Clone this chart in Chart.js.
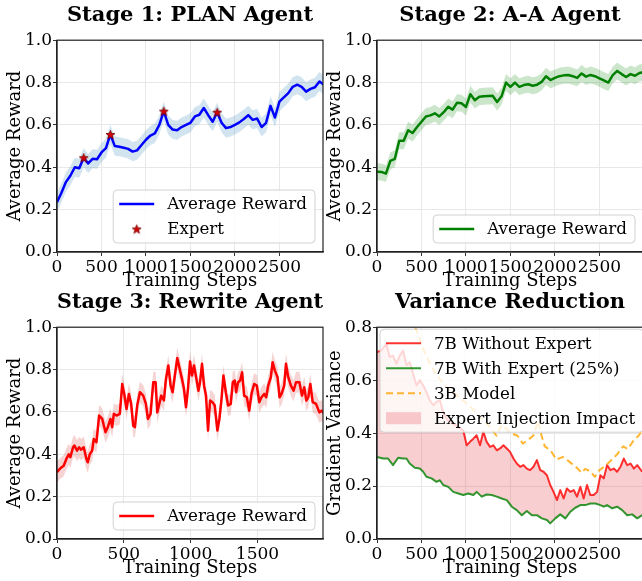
<!DOCTYPE html>
<html>
<head>
<meta charset="utf-8">
<script src="https://cdn.jsdelivr.net/npm/chart.js@4.4.1/dist/chart.umd.min.js"></script>
<style>
html, body { margin: 0; padding: 0; background: #fff; overflow: hidden; width: 642px; height: 581px; }
.panel { position: absolute; width: 330px; height: 292px; }
</style>
</head>
<body>
<div class="panel" style="left:0;top:0"><canvas id="plan" width="330" height="292"></canvas></div>
<div class="panel" style="left:320px;top:0"><canvas id="aa" width="330" height="292"></canvas></div>
<div class="panel" style="left:0;top:287px"><canvas id="rewrite" width="330" height="292"></canvas></div>
<div class="panel" style="left:320px;top:287px"><canvas id="variance" width="330" height="292"></canvas></div>
<script>
const FONT = "'DejaVu Serif', 'Liberation Serif', serif";

function range(a, b, s) { const r = []; for (let v = a; v <= b; v += s) r.push(v); return r; }

// --- Stage 1: PLAN agent
const planSteps = range(0, 3000, 50);
const planReward = [0.235,0.28,0.33,0.36,0.40,0.395,0.445,0.418,0.44,0.438,
  0.47,0.49,0.555,0.50,0.497,0.492,0.487,0.474,0.48,0.505,
  0.53,0.55,0.56,0.60,0.665,0.60,0.578,0.575,0.59,0.60,
  0.61,0.64,0.648,0.68,0.646,0.615,0.66,0.61,0.585,0.59,
  0.60,0.612,0.628,0.646,0.624,0.63,0.59,0.61,0.69,0.635,
  0.71,0.73,0.75,0.78,0.79,0.78,0.757,0.77,0.778,0.805,0.79];
const planSpread = 0.045;
const expertSteps = [300, 600, 1200, 1800];
const expertReward = [0.445, 0.555, 0.665, 0.66];

// --- Stage 2: A-A agent
const aaSteps = range(0, 3000, 50);
const aaReward = [0.379,0.378,0.37,0.43,0.44,0.525,0.525,0.575,0.562,0.59,
  0.615,0.64,0.645,0.655,0.64,0.66,0.685,0.672,0.705,0.702,
  0.685,0.745,0.717,0.733,0.735,0.737,0.738,0.708,0.735,0.80,
  0.78,0.80,0.78,0.788,0.792,0.785,0.79,0.803,0.83,0.812,
  0.822,0.83,0.834,0.836,0.83,0.822,0.843,0.828,0.836,0.83,
  0.82,0.81,0.80,0.835,0.855,0.84,0.826,0.84,0.832,0.845,0.85];
const aaSpread = 0.04;

// --- Stage 3: Rewrite agent
const rwSteps = [0,25,50,70,88,100,120,130,150,165,180,200,220,230,245,263,275,295,315,338,
  363,380,400,413,425,445,470,488,505,520,538,555,570,583,600,620,645,665,680,700,
  720,738,750,765,780,800,815,833,850,865,880,900,918,935,950,965,980,995,1010,1025,
  1043,1058,1070,1085,1100,1115,1130,1145,1163,1180,1200,1215,1230,1245,1263,1280,1300,1315,1330,1340,
  1355,1370,1385,1400,1420,1438,1455,1475,1495,1513,1530,1550,1565,1580,1600,1613,1630,1650,1665,1680,
  1700,1713,1730,1750,1770,1788,1813,1833,1850,1865,1880,1895,1913,1938,1963,1980,2000];
const rwReward = [0.315,0.334,0.346,0.378,0.40,0.386,0.433,0.441,0.417,0.433,0.422,0.433,0.378,0.362,0.40,0.417,0.472,0.457,0.583,0.567,
  0.504,0.528,0.567,0.528,0.591,0.583,0.591,0.732,0.677,0.614,0.685,0.638,0.535,0.528,0.63,0.693,0.677,0.638,0.567,0.591,
  0.74,0.74,0.598,0.638,0.677,0.654,0.756,0.819,0.724,0.693,0.764,0.854,0.803,0.756,0.709,0.622,0.709,0.838,0.772,0.819,
  0.756,0.70,0.74,0.827,0.724,0.677,0.512,0.654,0.646,0.63,0.512,0.567,0.654,0.772,0.693,0.63,0.638,0.74,0.748,0.693,
  0.74,0.748,0.787,0.677,0.669,0.606,0.685,0.732,0.724,0.646,0.669,0.685,0.669,0.724,0.764,0.835,0.795,0.764,0.669,0.685,
  0.724,0.827,0.764,0.724,0.70,0.74,0.74,0.677,0.716,0.654,0.669,0.732,0.646,0.638,0.598,0.606,0.59];
const rwSpread = 0.05;

// --- Variance reduction
const noExpertSteps = [0,49,105,143,180,218,256,293,331,368,406,444,481,519,556,594,632,669,707,744,
  782,820,857,914,970,1008,1045,1083,1120,1158,1195,1233,1271,1308,1346,1383,1421,1459,1496,1534,
  1571,1609,1647,1684,1722,1759,1797,1835,1872,1910,1947,1985,2023,2060,2098,2135,2173,2211,2248,2286,
  2323,2361,2398,2436,2474,2511,2549,2586,2624,2662,2699,2737,2774,2812,2850,2887,2925,2981];
const noExpertVar = [0.706,0.712,0.737,0.687,0.693,0.662,0.693,0.712,0.656,0.668,0.624,0.58,0.60,0.58,0.555,0.524,0.505,0.518,0.524,0.48,
  0.455,0.442,0.436,0.423,0.41,0.354,0.367,0.379,0.392,0.354,0.405,0.367,0.348,0.354,0.335,0.342,0.354,0.342,0.329,0.304,
  0.285,0.273,0.279,0.266,0.26,0.273,0.298,0.26,0.254,0.241,0.204,0.178,0.147,0.185,0.153,0.191,0.178,0.185,0.16,0.197,
  0.153,0.204,0.166,0.166,0.178,0.241,0.229,0.279,0.26,0.266,0.254,0.273,0.304,0.279,0.285,0.266,0.279,0.254];
const withExpertSteps = [0,68,124,180,237,293,331,368,425,481,519,556,613,669,707,744,801,857,914,970,
  1026,1083,1120,1177,1233,1289,1346,1402,1459,1515,1571,1628,1684,1741,1797,1853,1910,1947,2004,2060,
  2117,2173,2229,2286,2342,2398,2455,2511,2549,2586,2643,2699,2756,2812,2868,2925,2981];
const withExpertVar = [0.31,0.304,0.304,0.279,0.307,0.304,0.304,0.285,0.269,0.266,0.254,0.235,0.229,0.216,0.222,0.204,0.197,0.178,0.172,0.166,
  0.172,0.166,0.178,0.16,0.168,0.166,0.16,0.153,0.147,0.122,0.109,0.09,0.106,0.09,0.09,0.078,0.072,0.059,0.078,0.093,
  0.078,0.103,0.118,0.128,0.128,0.134,0.134,0.128,0.122,0.128,0.116,0.122,0.109,0.09,0.093,0.078,0.09];
const smallSteps = [0,250,430,540,650,760,870,980,1080,1150,1200,1250,1300,1343,1400,1440,1500,1580,1640,1700,
  1756,1811,1850,1886,1950,2017,2090,2150,2243,2300,2340,2400,2449,2500,2580,2640,2700,2767,2820,2880,2940,3000];
const smallVar = [1.10,0.92,0.80,0.70,0.63,0.58,0.55,0.52,0.49,0.46,0.45,0.43,0.41,0.39,0.43,0.42,0.40,0.39,0.36,0.375,
  0.39,0.445,0.39,0.35,0.335,0.30,0.31,0.295,0.27,0.25,0.265,0.255,0.235,0.26,0.28,0.30,0.32,0.35,0.34,0.37,0.39,0.42];

function pts(xs, ys, off) { return xs.map((x, i) => ({x: x, y: ys[i] + (off || 0)})); }

function starImage(size, fill, edge) {
  const c = document.createElement('canvas');
  c.width = c.height = size;
  const g = c.getContext('2d');
  const R = size / 2 - 0.8, r = R * 0.42, cx = size / 2, cy = size / 2 + 0.5;
  g.beginPath();
  for (let i = 0; i < 10; i++) {
    const ang = -Math.PI / 2 + i * Math.PI / 5;
    const rad = i % 2 === 0 ? R : r;
    g.lineTo(cx + rad * Math.cos(ang), cy + rad * Math.sin(ang));
  }
  g.closePath();
  g.fillStyle = fill; g.fill();
  g.strokeStyle = edge; g.lineWidth = 0.8; g.stroke();
  return c;
}
const star = starImage(11, '#d40000', '#7a0000');

// box round the plot area, like matplotlib spines
const frame = {
  id: 'frame',
  afterDatasetsDraw(chart) {
    const {ctx, chartArea: a} = chart;
    ctx.save();
    ctx.strokeStyle = '#222';
    ctx.lineWidth = 1.2;
    ctx.strokeRect(a.left, a.top, a.right - a.left, a.bottom - a.top);
    ctx.restore();
  }
};

function boxLegend(items, corner, dx, dy) {
  return {
    id: 'boxLegend',
    afterDraw(chart) {
      const {ctx, chartArea: a} = chart;
      const rowH = 25, fs = 16.7;
      ctx.save();
      ctx.font = fs + 'px ' + FONT;
      const textW = Math.max(...items.map(it => ctx.measureText(it.label).width));
      const w = 6 + 35 + 13 + textW + 8;
      const h = 28 + (items.length - 1) * rowH;
      let x0, y0;
      if (corner === 'upper left') { x0 = a.left + dx; y0 = a.top + dy; }
      else { x0 = a.right - dx - w; y0 = a.bottom - dy - h; }
      ctx.beginPath();
      ctx.roundRect(x0, y0, w, h, 4);
      ctx.fillStyle = 'rgba(255,255,255,0.8)';
      ctx.fill();
      ctx.strokeStyle = 'rgba(204,204,204,0.9)';
      ctx.lineWidth = 1;
      ctx.stroke();
      items.forEach((it, i) => {
        const y = y0 + 14 + i * rowH;
        const hx = x0 + 6;
        if (it.kind === 'line') {
          ctx.beginPath();
          ctx.moveTo(hx, y); ctx.lineTo(hx + 35, y);
          ctx.strokeStyle = it.color; ctx.lineWidth = it.width;
          ctx.setLineDash(it.dash || []);
          ctx.stroke();
          ctx.setLineDash([]);
        } else if (it.kind === 'patch') {
          ctx.fillStyle = it.color;
          ctx.fillRect(hx, y - 6, 35, 12);
        } else if (it.kind === 'marker') {
          ctx.drawImage(it.image, hx + 17.5 - it.image.width / 2, y - it.image.height / 2);
        }
        ctx.fillStyle = '#000';
        ctx.textBaseline = 'middle';
        ctx.textAlign = 'left';
        ctx.fillText(it.label, hx + 48, y + 1);
      });
      ctx.restore();
    }
  };
}

function options(title, yLabel, xMax, yMax) {
  const xTicks = range(0, xMax, 500);
  return {
    responsive: false,
    animation: false,
    layout: { padding: { left: 0, right: 7, top: 0, bottom: 0 } },
    elements: { point: { radius: 0 }, line: { tension: 0, borderJoinStyle: 'round' } },
    plugins: {
      legend: { display: false },
      tooltip: { enabled: false },
      filler: { drawTime: 'beforeDatasetsDraw' },
      title: {
        display: true, text: title, fullSize: false, color: '#000',
        font: { family: FONT, size: 21, weight: 'bold' },
        padding: { top: 3, bottom: 12 }
      }
    },
    scales: {
      x: {
        type: 'linear', min: 0, max: xMax,
        afterBuildTicks: s => { s.ticks = xTicks.map(v => ({ value: v })); },
        ticks: { autoSkip: false, color: '#000', padding: 1,
                 font: { family: FONT, size: 17 }, maxRotation: 0,
                 callback: v => String(v) },
        grid: { color: '#e8e8e8', lineWidth: 1, tickLength: 4, tickColor: '#333' },
        border: { display: true, color: '#222', width: 1.2 },
        title: { display: true, text: 'Training Steps', color: '#000',
                 font: { family: FONT, size: 18 }, padding: { top: 0, bottom: 0 } },
        afterFit: s => { s.height = 40; }
      },
      y: {
        min: 0, max: yMax,
        ticks: { stepSize: 0.2, color: '#000', padding: 1,
                 font: { family: FONT, size: 17 },
                 callback: v => v.toFixed(1) },
        grid: { color: '#e8e8e8', lineWidth: 1, tickLength: 4, tickColor: '#333' },
        border: { display: true, color: '#222', width: 1.2 },
        title: { display: true, text: yLabel, color: '#000',
                 font: { family: FONT, size: 18 }, padding: { top: 5, bottom: 0 } },
        afterFit: s => { s.width = 57; }
      }
    }
  };
}

function rewardChart(id, title, steps, reward, spread, color, band, xMax, extra, legendItems) {
  const datasets = [
    { data: pts(steps, reward), borderColor: color, borderWidth: 2.5, order: 1 },
    { data: pts(steps, reward, spread), borderWidth: 0, backgroundColor: band, fill: false, order: 3 },
    { data: pts(steps, reward, -spread), borderWidth: 0, backgroundColor: band, fill: '-1', order: 3 }
  ].concat(extra);
  return new Chart(document.getElementById(id), {
    type: 'line',
    data: { datasets: datasets },
    options: options(title, 'Average Reward', xMax, 1),
    plugins: [frame, boxLegend(legendItems, 'lower right', 8, 9)]
  });
}

rewardChart('plan', 'Stage 1: PLAN Agent', planSteps, planReward, planSpread,
  '#0000ff', 'rgba(31,119,180,0.2)', 2990,
  [{ data: pts(expertSteps, expertReward), showLine: false, pointStyle: star, pointRadius: 5, order: 0 }],
  [{ kind: 'line', color: '#0000ff', width: 2.5, label: 'Average Reward' },
   { kind: 'marker', image: star, label: 'Expert' }]);

rewardChart('aa', 'Stage 2: A-A Agent', aaSteps, aaReward, aaSpread,
  '#008000', 'rgba(0,128,0,0.2)', 2990, [],
  [{ kind: 'line', color: '#008000', width: 2.5, label: 'Average Reward' }]);

rewardChart('rewrite', 'Stage 3: Rewrite Agent', rwSteps, rwReward, rwSpread,
  '#ff0000', 'rgba(214,39,40,0.2)', 1990, [],
  [{ kind: 'line', color: '#ff0000', width: 2.5, label: 'Average Reward' }]);

const impactFill = 'rgba(235,80,85,0.28)';
new Chart(document.getElementById('variance'), {
  type: 'line',
  data: {
    datasets: [
      { data: pts(noExpertSteps, noExpertVar), borderColor: 'rgba(255,0,0,0.8)', borderWidth: 2,
        fill: { target: 1, above: impactFill, below: impactFill }, order: 3 },
      { data: pts(withExpertSteps, withExpertVar), borderColor: 'rgba(0,128,0,0.8)', borderWidth: 2, order: 2 },
      { data: pts(smallSteps, smallVar), borderColor: 'rgba(255,165,0,0.8)', borderWidth: 2,
        borderDash: [7, 4], order: 1 }
    ]
  },
  options: options('Variance Reduction', 'Gradient Variance', 2990, 0.8),
  plugins: [frame, boxLegend([
    { kind: 'line', color: 'rgba(255,0,0,0.8)', width: 2, label: '7B Without Expert' },
    { kind: 'line', color: 'rgba(0,128,0,0.8)', width: 2, label: '7B With Expert (25%)' },
    { kind: 'line', color: 'rgba(255,165,0,0.8)', width: 2, dash: [7, 4], label: '3B Model' },
    { kind: 'patch', color: impactFill, label: 'Expert Injection Impact' }
  ], 'upper left', 3, 2)]
});
</script>
</body>
</html>
